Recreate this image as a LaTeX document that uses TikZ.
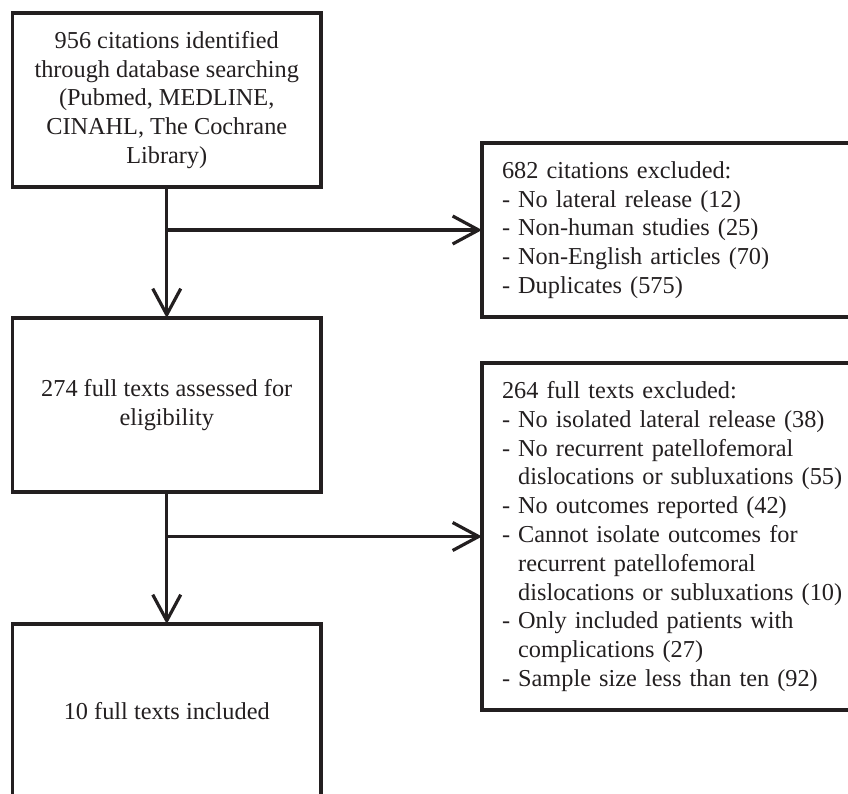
\documentclass[tikz,border=0pt]{standalone}
\usepackage{fontspec}
\setmainfont{Liberation Serif}
\usetikzlibrary{arrows.meta}
\definecolor{ink}{RGB}{35,31,32}
\begin{document}
\begin{tikzpicture}[x=1pt,y=-1pt,
  box/.style={draw=ink, line width=3.2pt, rectangle, inner sep=0pt, outer sep=0pt,
    anchor=north west, text=ink, font=\fontsize{24.3}{28.8}\selectfont},
  leftbox/.style={box, minimum width=308.5pt, minimum height=174pt, align=center},
  rightbox/.style={box, inner xsep=20pt, text width=348pt, align=left},
  conn/.style={draw=ink, line width=3.2pt},
  arr/.style={conn, -{Straight Barb[length=26pt,width=28pt,line width=3.2pt]}}]
\useasboundingbox (0,0) rectangle (848,793);
\clip (0,0) rectangle (848,793);

\node[leftbox] (b1) at (12.5,13) {956 citations identified\\through database searching\\(Pubmed, MEDLINE,\\CINAHL, The Cochrane\\Library)};

\node[rightbox, minimum height=174pt] (b2) at (482,143) {682 citations excluded:\\- No lateral release (12)\\- Non-human studies (25)\\- Non-English articles (70)\\- Duplicates (575)};

\node[leftbox] (b3) at (12.5,318) {274 full texts assessed for\\eligibility};

\node[rightbox, minimum height=347pt] (b4) at (482,363) {264 full texts excluded:\\- No isolated lateral release (38)\\- No recurrent patellofemoral\\\hphantom{- }dislocations or subluxations (55)\\- No outcomes reported (42)\\- Cannot isolate outcomes for\\\hphantom{- }recurrent patellofemoral\\\hphantom{- }dislocations or subluxations (10)\\- Only included patients with\\\hphantom{- }complications (27)\\- Sample size less than ten (92)};

\node[leftbox] (b5) at (12.5,624) {10 full texts included};

\draw[arr] (b1.south) -- (b3.north);
\draw[arr] (b1.south |- b2.west) -- (b2.west);
\draw[arr] (b3.south) -- (b5.north);
\draw[arr] (b3.south |- b4.west) -- (b4.west);
\end{tikzpicture}
\end{document}
